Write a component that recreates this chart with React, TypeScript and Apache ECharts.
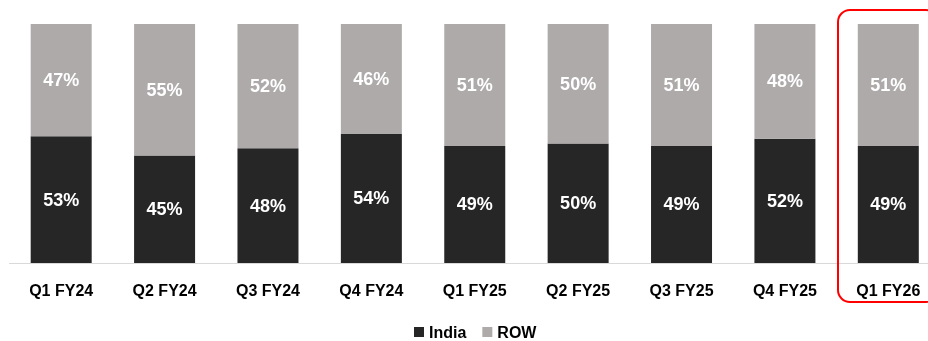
import React, { useEffect, useRef } from "react";
import * as echarts from "echarts";

const categories = ["Q1 FY24", "Q2 FY24", "Q3 FY24", "Q4 FY24", "Q1 FY25", "Q2 FY25", "Q3 FY25", "Q4 FY25", "Q1 FY26"];
const india = [53, 45, 48, 54, 49, 50, 49, 52, 49];
const row = [47, 55, 52, 46, 51, 50, 51, 48, 51];

export default function App() {
  const ref = useRef<HTMLDivElement>(null);
  useEffect(() => {
    if (!ref.current) return;
    const chart = echarts.init(ref.current, null, { renderer: "svg" });
    const label = {
      show: true,
      position: "inside",
      color: "#ffffff",
      fontFamily: "Liberation Sans, Arial, sans-serif",
      fontWeight: "bold",
      fontSize: 18,
      formatter: (p: any) => p.value + "%",
    };
    chart.setOption({
      animation: false,
      grid: { left: 9.5, right: 0, top: 24, height: 239, containLabel: false },
      legend: {
        top: 324,
        left: 414,
        padding: 0,
        itemWidth: 10,
        itemHeight: 10,
        itemGap: 16,
        icon: "rect",
        textStyle: { fontFamily: "Liberation Sans, Arial, sans-serif", fontWeight: "bold", fontSize: 16, lineHeight: 16, color: "#000" },
        data: ["India", "ROW"],
      },
      xAxis: {
        type: "category",
        data: categories,
        axisLine: { lineStyle: { color: "#d9d9d9", width: 1 } },
        axisTick: { show: false },
        axisLabel: {
          margin: 19,
          color: "#000",
          fontFamily: "Liberation Sans, Arial, sans-serif",
          fontWeight: "bold",
          fontSize: 16,
        },
      },
      yAxis: { type: "value", min: 0, max: 100, show: false, splitLine: { show: false } },
      series: [
        { name: "India", type: "bar", stack: "s", data: india, barWidth: 61, itemStyle: { color: "#262626" }, label },
        { name: "ROW", type: "bar", stack: "s", data: row, barWidth: 61, itemStyle: { color: "#aeaaaa" }, label },
      ],
      graphic: [
        {
          type: "rect",
          shape: { x: 838, y: 10, width: 100, height: 292, r: 12 },
          style: { fill: "none", stroke: "#ff0000", lineWidth: 2 },
          z: 10,
        },
      ],
    });
    return () => chart.dispose();
  }, []);
  return (
    <div style={{ position: "fixed", left: 0, top: 0, width: 928, height: 341, overflow: "hidden" }}>
      <div ref={ref} style={{ width: 940, height: 341 }} />
    </div>
  );
}
